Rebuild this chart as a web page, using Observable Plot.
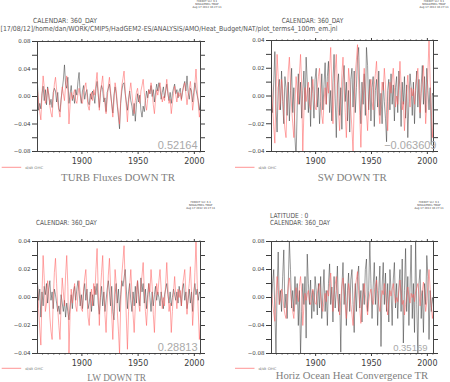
<!DOCTYPE html>
<html><head><meta charset="utf-8">
<script src="https://cdn.jsdelivr.net/npm/d3@7"></script>
<script src="https://cdn.jsdelivr.net/npm/@observablehq/plot@0.6"></script>
<style>
html,body{margin:0;padding:0;background:#fff;}
#root{position:relative;width:450px;height:382px;overflow:hidden;background:#fff;}
.panel{position:absolute;}
#overlay{position:absolute;left:0;top:0;pointer-events:none;}
</style></head><body><div id="root"></div>
<script>
// Annual values, first year below, one value per year (1860 ... 2005)
const startYear = 1860;

// red line: d/dt OHC (same series in every panel)
const ohcTendency = [
 0.010,-0.008,-0.022,-0.034,0.002,0.030,0.014,-0.010,-0.004,0.012,
 0.004,-0.014,-0.024,-0.030,-0.002,0.018,0.028,0.010,-0.008,-0.020,
 -0.030,-0.006,0.014,0.004,-0.006,0.016,0.030,0.008,-0.040,-0.012,
 0.006,-0.004,0.004,0.010,-0.006,-0.010,0.004,0.012,0.002,-0.008,
 -0.010,0.006,0.014,0.020,0.002,-0.014,-0.020,-0.004,0.006,-0.006,
 0.010,0.002,0.020,0.035,0.006,-0.020,0.004,0.018,0.030,0.004,
 -0.012,-0.025,-0.004,0.016,0.028,0.008,-0.012,-0.030,-0.008,0.020,
 0.010,-0.010,-0.024,-0.040,-0.006,0.016,0.026,0.037,0.010,-0.014,
 -0.037,-0.010,0.008,0.020,0.004,-0.012,-0.025,-0.006,0.006,0.012,
 -0.004,-0.010,0.008,0.016,0.025,0.006,-0.010,-0.020,-0.004,0.010,
 0.004,0.020,0.008,-0.012,-0.025,-0.004,0.010,0.002,0.012,0.020,
 0.006,-0.008,0.000,-0.006,0.010,0.025,0.008,-0.010,-0.004,-0.025,
 -0.010,0.004,0.015,0.002,-0.008,0.006,0.000,0.005,-0.006,0.008,
 0.014,0.020,0.004,-0.012,0.002,0.010,0.022,0.004,-0.020,-0.006,
 0.018,0.040,0.012,-0.010,-0.030,-0.018
];

const turbFluxes = [
 0.018,-0.020,-0.010,-0.018,0.004,0.015,-0.006,0.010,-0.012,0.014,
 0.002,-0.012,-0.004,-0.016,0.006,0.012,0.008,-0.008,0.006,-0.018,
 -0.022,-0.004,0.010,0.024,0.046,0.018,0.012,0.028,-0.010,0.004,
 0.016,-0.006,0.002,-0.010,0.010,0.002,0.022,0.035,0.004,-0.010,
 0.008,0.016,-0.004,0.006,0.010,-0.008,-0.012,0.004,-0.004,0.008,
 0.002,-0.010,0.012,0.022,0.004,-0.016,0.006,0.016,0.010,-0.008,
 -0.002,-0.022,0.006,0.012,0.018,0.004,-0.010,-0.024,0.002,0.014,
 0.004,-0.014,-0.030,-0.047,-0.010,0.008,0.018,0.020,0.004,-0.008,
 -0.020,-0.004,0.008,-0.006,-0.014,-0.028,-0.010,-0.036,-0.012,0.004,
 -0.008,0.002,-0.020,-0.030,-0.014,-0.022,-0.006,0.008,-0.002,0.010,
 0.004,0.016,0.000,0.010,-0.008,0.006,0.018,0.008,0.020,0.012,
 -0.004,0.006,0.014,-0.002,0.008,0.018,0.004,-0.006,0.006,-0.010,
 0.004,0.012,0.018,0.004,0.010,-0.002,0.008,0.012,-0.004,0.006,
 0.016,0.022,0.008,0.030,0.006,-0.004,0.012,0.008,-0.008,0.006,
 0.020,0.010,0.002,-0.006,-0.020,-0.008
];

const swDown = [
 -0.005,-0.012,0.010,0.032,-0.008,-0.026,0.006,0.012,-0.010,0.018,
 -0.004,-0.020,0.014,0.006,-0.014,0.010,-0.018,0.004,0.020,-0.012,
 0.006,-0.030,-0.045,-0.008,0.016,-0.006,0.010,-0.016,0.004,0.018,
 -0.010,0.028,0.010,-0.012,0.006,-0.022,0.014,0.002,-0.016,0.012,
 0.020,-0.008,0.006,-0.020,-0.004,0.016,-0.010,0.008,0.024,-0.006,
 0.014,0.025,-0.012,0.004,-0.018,0.010,0.030,-0.002,-0.030,0.008,
 0.016,-0.014,0.006,-0.024,0.012,0.022,-0.004,0.010,-0.018,0.004,
 -0.026,0.012,0.020,-0.008,0.018,-0.012,0.006,0.028,0.035,0.004,
 -0.020,0.010,-0.006,0.016,-0.014,0.035,0.022,-0.010,0.012,-0.018,
 0.006,0.014,-0.022,0.004,0.012,-0.008,0.018,-0.014,0.002,-0.020,
 0.010,-0.004,-0.016,-0.033,0.004,0.012,-0.010,0.016,-0.006,0.008,
 -0.018,0.006,0.014,-0.012,0.018,0.004,-0.022,0.010,-0.006,0.014,
 -0.016,0.008,-0.030,-0.004,0.016,0.006,-0.014,0.010,-0.020,0.004,
 0.018,-0.008,0.012,-0.016,0.008,0.022,-0.006,0.014,-0.012,0.020,
 0.004,-0.010,0.006,-0.035,0.002,0.000
];

const lwDown = [
 0.010,-0.002,0.006,-0.014,0.004,-0.006,0.008,0.002,0.010,-0.004,
 0.006,0.012,-0.002,0.004,-0.008,0.006,0.002,-0.004,-0.010,-0.006,
 -0.012,0.002,-0.004,-0.010,-0.002,-0.014,-0.004,-0.010,-0.016,-0.006,
 0.002,-0.008,0.004,0.008,-0.002,0.006,0.012,0.004,-0.006,0.002,
 -0.008,0.004,0.010,-0.002,0.006,-0.008,-0.004,0.004,-0.010,0.002,
 -0.006,0.008,0.002,0.010,-0.004,-0.012,0.000,0.008,-0.006,0.004,
 -0.010,-0.002,0.006,0.012,0.004,-0.006,0.008,-0.010,-0.016,0.002,
 0.010,-0.004,0.006,-0.010,0.002,0.012,0.008,0.014,0.020,0.006,
 -0.008,0.004,0.010,-0.002,-0.010,0.004,-0.006,0.008,-0.004,0.012,
 0.002,-0.006,0.014,0.004,0.010,-0.004,0.006,-0.008,0.002,0.010,
 0.000,-0.010,0.004,-0.006,0.002,0.008,-0.002,0.004,0.000,-0.006,
 0.004,-0.002,-0.008,0.002,0.006,0.010,0.002,-0.004,0.004,-0.006,
 0.000,0.006,0.002,-0.002,0.004,-0.004,0.008,0.002,-0.006,0.006,
 0.010,-0.002,0.004,-0.008,-0.002,0.006,-0.004,0.004,-0.010,0.004,
 0.010,0.002,0.006,-0.002,0.004,0.002
];

const horizConvergence = [
 -0.010,0.020,0.040,-0.020,-0.080,0.010,0.065,-0.010,0.010,-0.020,
 0.030,0.068,-0.015,0.005,-0.030,0.020,0.080,0.040,-0.015,0.010,
 -0.020,0.030,-0.010,0.020,-0.040,0.010,-0.080,-0.020,0.020,-0.010,
 0.030,-0.058,0.062,0.020,-0.010,0.025,-0.030,0.010,-0.020,0.030,
 0.010,-0.025,0.020,-0.015,0.030,-0.030,0.005,0.040,-0.020,0.010,
 -0.040,0.020,0.048,-0.010,0.015,-0.035,0.030,-0.015,0.010,0.045,
 -0.020,0.005,-0.078,0.015,0.050,-0.010,0.020,-0.040,0.010,0.035,
 -0.020,0.025,0.040,-0.010,-0.050,0.020,-0.020,0.030,0.045,-0.015,
 0.010,-0.035,0.020,-0.010,0.040,0.055,-0.020,0.010,0.080,0.020,
 -0.030,0.015,0.050,-0.010,0.030,-0.040,0.010,0.045,-0.070,0.015,
 0.050,-0.010,0.035,-0.020,0.020,-0.035,0.040,0.010,-0.040,0.025,
 0.050,-0.015,0.020,-0.030,0.015,0.040,-0.020,0.055,-0.065,0.010,
 0.070,-0.020,0.030,-0.040,0.015,0.075,-0.030,0.020,-0.050,0.080,
 -0.010,-0.080,0.020,0.040,-0.030,0.010,-0.050,0.020,-0.010,0.060,
 0.030,-0.060,0.010,-0.020,0.000,-0.010
];

const correlations = ["0.52164", "\u22120.063609", "0.28813", "0.35169"];
const panelTitles = ["TURB Fluxes DOWN TR", "SW DOWN  TR", "LW DOWN TR", "Horiz Ocean Heat Convergence TR"];
const yearTicks = [1900, 1950, 2000];
const minorYearTicks = [1865,1870,1875,1880,1885,1890,1895,1905,1910,1915,1920,1925,1930,1935,1940,1945,1955,1960,1965,1970,1975,1980,1985,1990,1995,2005];
const wideTicks = [-0.08, -0.04, 0, 0.04, 0.08];
const wideMinor = [-0.06, -0.02, 0.02, 0.06];
const narrowTicks = [-0.04, -0.02, 0, 0.02, 0.04];
const narrowMinor = [-0.03, -0.01, 0.01, 0.03];
const legendLabel = "d/dt OHC";
const calendarLabel = "CALENDAR: 360_DAY";
const latitudeLabel = "LATITUDE : 0";
const pathLabel = "[17/08/12]/home/dan/WORK/CMIP5/HadGEM2-ES/ANALYSIS/AMO/Heat_Budget/NAT/plot_terms4_100m_em.jnl";
const stampLines = ["FERRET Ver. 6.1", "NOAA/PMEL TMAP", "Aug 17 2012 16:27:11"];

const toRows = arr => arr.map((v, i) => ({year: startYear + i + 0.5, value: v}));
const redRows = toRows(ohcTendency);

const panels = [
  {left: 0,   top: 0,   h: 190, mt: 41, mb: 39, ml: 37, mr: 25, series: turbFluxes,       wide: true,  corr: correlations[0], cdx: -3, cfs: 11},
  {left: 225, top: 0,   h: 190, mt: 40, mb: 39, ml: 46, mr: 17, series: swDown,           wide: false, corr: correlations[1], cdx: 3,  cfs: 11},
  {left: 0,   top: 190, h: 192, mt: 51, mb: 29, ml: 37, mr: 25, series: lwDown,           wide: false, corr: correlations[2], cdx: -3, cfs: 11},
  {left: 225, top: 190, h: 192, mt: 51, mb: 29, ml: 46, mr: 17, series: horizConvergence, wide: true,  corr: correlations[3], cdx: -6, cfs: 9.5}
];

const root = document.getElementById("root");
const fmt = d3.format(".2f");
const blank = () => "";

for (const p of panels) {
  const major = p.wide ? wideTicks : narrowTicks;
  const minor = p.wide ? wideMinor : narrowMinor;
  const ext = p.wide ? 0.08 : 0.04;
  const chart = Plot.plot({
    width: 225, height: p.h,
    marginTop: p.mt, marginBottom: p.mb, marginLeft: p.ml, marginRight: p.mr,
    x: {domain: [1860.5, 2005.5]},
    y: {domain: [-ext, ext]},
    style: {fontFamily: "DejaVu Sans", fontSize: "6px", color: "#3c3c3c", background: "transparent", overflow: "visible"},
    marks: [
      Plot.lineY(toRows(p.series), {x: "year", y: "value", stroke: "#2a2a2a", strokeWidth: 0.6, strokeOpacity: 0.8, clip: true}),
      Plot.lineY(redRows, {x: "year", y: "value", stroke: "#ff5a5a", strokeWidth: 0.7, strokeOpacity: 0.75, clip: true}),
      Plot.frame({stroke: "#444", strokeWidth: 1}),
      Plot.axisY({ticks: major, tickFormat: fmt, tickSize: 5, tickPadding: 2, label: null, fontSize: 5.5}),
      Plot.axisY({ticks: minor, tickFormat: blank, tickSize: 5, label: null}),
      Plot.axisY({anchor: "right", ticks: major.concat(minor), tickFormat: blank, tickSize: 4, label: null}),
      Plot.axisX({ticks: yearTicks, tickFormat: d => String(d), tickSize: 3, tickPadding: 4, label: null, fontSize: 8}),
      Plot.axisX({ticks: minorYearTicks, tickFormat: blank, tickSize: 1.5, label: null}),
      Plot.axisX({anchor: "top", ticks: yearTicks, tickFormat: blank, tickSize: 3, label: null}),
      Plot.axisX({anchor: "top", ticks: minorYearTicks, tickFormat: blank, tickSize: 1.5, label: null}),
      Plot.text([p.corr], {frameAnchor: "bottom-right", text: d => d, dx: p.cdx, dy: -2.5, fontSize: p.cfs, fill: "#a9a9a9", fontFamily: "Liberation Sans"})
    ]
  });
  chart.classList.add("panel");
  chart.style.left = p.left + "px";
  chart.style.top = p.top + "px";
  root.appendChild(chart);
}

// annotation overlay (texts and legend keys)
const ov = d3.select(root).append("svg").attr("id", "overlay").attr("width", 450).attr("height", 382);
function label(x, y, str, o = {}) {
  const t = ov.append("text").attr("x", x).attr("y", y).text(str)
    .attr("font-family", o.family || "DejaVu Sans")
    .attr("font-size", o.size || 7)
    .attr("fill", o.fill || "#555")
    .attr("text-anchor", o.anchor || "start");
  if (o.len) t.attr("textLength", o.len).attr("lengthAdjust", "spacingAndGlyphs");
  return t;
}
// header texts
label(33, 22.7, calendarLabel, {len: 64});
label(0.5, 31, pathLabel, {len: 337});
label(281.7, 22.7, calendarLabel, {len: 61.6});
label(36, 224.5, calendarLabel, {len: 60.7});
label(270, 217.5, latitudeLabel, {len: 38.3});
label(270, 224.5, calendarLabel, {len: 60});
// ferret stamps
const stamps = [[207, 2.2], [434, 2.2], [200.7, 203.2], [429, 203.2]];
for (const [cx, y0] of stamps) {
  stampLines.forEach((s, i) => label(cx, y0 + i * 2.7, s, {size: 2.6, anchor: "middle", fill: "#444"}));
}
// legend keys
const legends = [[1.7, 167.3], [235, 167.3], [1.7, 368.3], [235, 368.3]];
for (const [x, y] of legends) {
  ov.append("line").attr("x1", x).attr("x2", x + 19.5).attr("y1", y).attr("y2", y)
    .attr("stroke", "#ff7a7a").attr("stroke-width", 0.8);
  label(x + 23.5, y + 1.2, legendLabel, {size: 3.5, fill: "#777", len: 18});
}
// panel titles
const titlePos = [[61, 180.5, 114], [317.7, 180.5, 69], [87.3, 380.5, 58.7], [275.7, 378.5, 152.6]];
titlePos.forEach(([x, y, len], i) => label(x, y, panelTitles[i], {family: "Liberation Serif", size: 10.5, fill: "#808080", len}));
</script>
</body></html>
